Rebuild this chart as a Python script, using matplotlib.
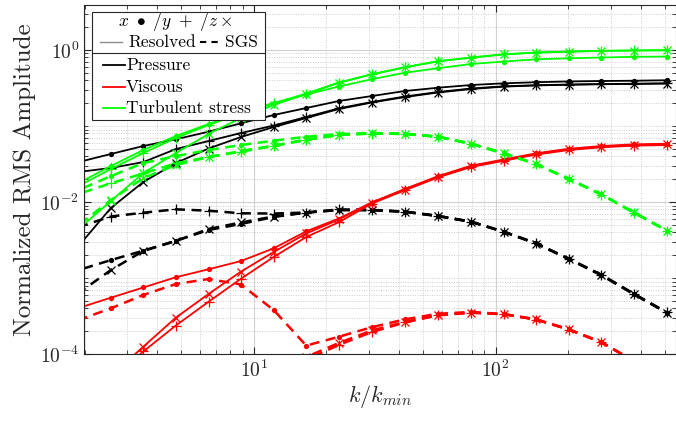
import numpy as np
import matplotlib
matplotlib.use('Agg')
import matplotlib.pyplot as plt
from matplotlib.lines import Line2D
from matplotlib.patches import Rectangle
from matplotlib.ticker import LogLocator, NullFormatter, FixedLocator

# wavenumber bins k/k_min
k = [1.89, 2.57, 3.50, 4.77, 6.51, 8.86, 12.1, 16.5, 22.5, 30.8, 42.2, 57.8,
     79.1, 108, 147, 201, 274, 373, 511]

# pressure term
p_res_x = [0.0336, 0.0429, 0.0546, 0.0669, 0.0842, 0.1085, 0.1395, 0.1724, 0.2131, 0.2478,
           0.2884, 0.3187, 0.3457, 0.3640, 0.3763, 0.3855, 0.3903, 0.3938, 0.3998]
p_res_y = [0.0249, 0.0281, 0.0336, 0.0498, 0.0635, 0.0809, 0.1015, 0.1313, 0.1708, 0.2067,
           0.2442, 0.2797, 0.3110, 0.3323, 0.3436, 0.3510, 0.3564, 0.3596, 0.3640]
p_res_z = [0.00265, 0.00837, 0.01837, 0.0326, 0.0506, 0.0717, 0.0970, 0.1274, 0.1673, 0.2036,
           0.2404, 0.2755, 0.3063, 0.3293, 0.3416, 0.3489, 0.3542, 0.3574, 0.3618]
p_sgs_x = [0.00128, 0.00173, 0.00230, 0.00311, 0.00430, 0.00516, 0.00637, 0.00730, 0.00787, 0.00787,
           0.00748, 0.00657, 0.00553, 0.00408, 0.00287, 0.00179, 0.00110, 0.000620, 0.000352]
p_sgs_y = [0.00471, 0.00647, 0.00726, 0.00804, 0.00771, 0.00713, 0.00708, 0.00730, 0.00800, 0.00790,
           0.00752, 0.00660, 0.00555, 0.00410, 0.00289, 0.00180, 0.00111, 0.000625, 0.000355]
p_sgs_z = [0.000639, 0.00128, 0.00228, 0.00308, 0.00443, 0.00540, 0.00647, 0.00730, 0.00787, 0.00785,
           0.00745, 0.00654, 0.00550, 0.00406, 0.00285, 0.00178, 0.00109, 0.000615, 0.000349]

# viscous term
v_res_x = [4.06e-4, 5.54e-4, 7.55e-4, 1.03e-3, 1.31e-3, 1.68e-3, 2.47e-3, 4.13e-3, 6.09e-3, 9.88e-3,
           0.0149, 0.0219, 0.0301, 0.0363, 0.0438, 0.0503, 0.0546, 0.0575, 0.0585]
v_res_y = [1.75e-5, 4.46e-5, 1.09e-4, 2.39e-4, 4.90e-4, 9.83e-4, 1.90e-3, 3.48e-3, 5.44e-3, 9.58e-3,
           0.0143, 0.0211, 0.0289, 0.0349, 0.0421, 0.0484, 0.0525, 0.0552, 0.0562]
v_res_z = [2.03e-5, 5.19e-5, 1.26e-4, 3.03e-4, 6.20e-4, 1.22e-3, 2.21e-3, 3.87e-3, 5.91e-3, 9.88e-3,
           0.0146, 0.0215, 0.0295, 0.0356, 0.0429, 0.0493, 0.0535, 0.0563, 0.0573]
v_sgs_x = [2.82e-4, 4.02e-4, 6.02e-4, 8.39e-4, 9.76e-4, 8.26e-4, 3.82e-4, 1.30e-4, 1.70e-4, 2.27e-4,
           2.88e-4, 3.41e-4, 3.60e-4, 3.38e-4, 2.88e-4, 2.13e-4, 1.44e-4, 8.17e-5, 3.83e-5]
v_sgs_y = [np.nan] * 7 + [8.41e-5, 1.33e-4, 1.96e-4, 2.62e-4, 3.25e-4, 3.52e-4, 3.36e-4, 2.86e-4,
                          2.11e-4, 1.43e-4, 8.10e-5, 3.80e-5]
v_sgs_z = [np.nan] * 7 + [9.21e-5, 1.41e-4, 2.06e-4, 2.66e-4, 3.28e-4, 3.54e-4, 3.37e-4, 2.87e-4,
                          2.12e-4, 1.44e-4, 8.15e-5, 3.82e-5]

# turbulent stress term
t_res_x = [0.0178, 0.0298, 0.0484, 0.0739, 0.1062, 0.1482, 0.2005, 0.2594, 0.3304, 0.4121,
           0.5016, 0.5746, 0.6527, 0.7040, 0.7523, 0.7757, 0.7947, 0.8115, 0.8189]
t_res_y = [0.0163, 0.0272, 0.0442, 0.0696, 0.1031, 0.1459, 0.1987, 0.2673, 0.3727, 0.4794,
           0.5923, 0.7105, 0.7947, 0.8753, 0.9243, 0.9528, 0.9732, 0.9849, 0.9910]
t_res_z = [0.00443, 0.01034, 0.0241, 0.0442, 0.0785, 0.1274, 0.1888, 0.2634, 0.3700, 0.4770,
           0.5900, 0.7080, 0.7920, 0.8730, 0.9220, 0.9500, 0.9700, 0.9820, 0.9880]
t_sgs_x = [0.0144, 0.0220, 0.0326, 0.0403, 0.0484, 0.0563, 0.0641, 0.0723, 0.0785, 0.0809,
           0.0797, 0.0723, 0.0585, 0.0438, 0.0317, 0.0201, 0.0126, 0.00730, 0.00421]
t_sgs_y = [0.0128, 0.0177, 0.0238, 0.0324, 0.0391, 0.0460, 0.0546, 0.0655, 0.0762, 0.0797,
           0.0785, 0.0720, 0.0582, 0.0435, 0.0315, 0.0200, 0.0125, 0.00726, 0.00419]
t_sgs_z = [0.00500, 0.01065, 0.0207, 0.0307, 0.0391, 0.0469, 0.0554, 0.0665, 0.0762, 0.0800,
           0.0788, 0.0726, 0.0588, 0.0440, 0.0318, 0.0202, 0.0127, 0.00735, 0.00423]

term_names = ['Pressure', 'Viscous', 'Turbulent stress']
term_colors = ['#000000', '#ff0000', '#00ff00']

DPI = 100
DASH = (4.0, 2.6)


def dash_offset(ax, vals, lw, ref=12):
    """offset so that the dashes of overlapping SGS lines line up at k[ref]"""
    pts = ax.transData.transform(np.column_stack([k, vals]))
    good = ~np.isnan(pts).any(axis=1)
    first = int(np.argmax(good))
    pts = pts[good]
    seg = np.hypot(np.diff(pts[:, 0]), np.diff(pts[:, 1]))
    s = seg[:ref - first].sum()
    scale = lw * DPI / 72.0
    period = (DASH[0] + DASH[1]) * scale
    return ((-s) % period) / scale


def main():
    plt.rcParams['font.family'] = 'serif'
    plt.rcParams['font.serif'] = ['cmr10']
    plt.rcParams['mathtext.fontset'] = 'cm'
    plt.rcParams['axes.formatter.use_mathtext'] = True

    fig = plt.figure(figsize=(6.76, 4.21), dpi=DPI)
    ax = fig.add_axes([84 / 676, 66.7 / 421, 592 / 676, 349.6 / 421])
    ax.set_xscale('log')
    ax.set_yscale('log')
    ax.set_xlim(1.99, 557)
    ax.set_ylim(1e-4, 3.93)

    series = {
        'Pressure': [(p_res_x, p_res_y, p_res_z), (p_sgs_x, p_sgs_y, p_sgs_z)],
        'Viscous': [(v_res_x, v_res_y, v_res_z), (v_sgs_x, v_sgs_y, v_sgs_z)],
        'Turbulent stress': [(t_res_x, t_res_y, t_res_z), (t_sgs_x, t_sgs_y, t_sgs_z)],
    }
    markers = [('o', 3.8, 0.0), ('+', 7.5, 0.9), ('x', 6.0, 0.9)]

    for name, color in zip(term_names, term_colors):
        res, sgs = series[name]
        for vals, (m, ms, mew) in zip(res, markers):
            ax.plot(k, vals, color=color, ls='-', lw=1.3, marker=m, ms=ms,
                    mew=mew, mec=color, mfc=color)
        lw = 1.8
        for vals, (m, ms, mew) in zip(sgs, markers):
            off = dash_offset(ax, vals, lw)
            ax.plot(k, vals, color=color, ls=(off, DASH), lw=lw, marker=m, ms=ms,
                    mew=mew, mec=color, mfc=color)

    ax.xaxis.set_major_locator(FixedLocator([10, 100]))
    ax.xaxis.set_minor_locator(LogLocator(base=10, subs=np.arange(2, 10), numticks=20))
    ax.yaxis.set_major_locator(FixedLocator([1e-4, 1e-2, 1]))
    ax.yaxis.set_minor_locator(LogLocator(base=10, subs=np.arange(1, 10), numticks=30))
    ax.xaxis.set_minor_formatter(NullFormatter())
    ax.yaxis.set_minor_formatter(NullFormatter())

    ax.grid(True, which='major', color='0.82', lw=0.8, ls='-')
    ax.grid(True, which='minor', color='0.8', lw=0.7, ls=(0, (1, 1.5)))
    ax.set_axisbelow(True)

    ax.tick_params(which='both', direction='in', top=True, right=True,
                   color='0.15', labelcolor='0.15', labelsize=14)
    ax.tick_params(which='major', length=5, width=0.8)
    ax.tick_params(which='minor', length=3, width=0.6)
    for sp in ax.spines.values():
        sp.set_color('0.15')
        sp.set_linewidth(0.8)

    ax.set_xlabel('$k/k_{min}$', fontsize=16, color='0.15', labelpad=2)
    ax.set_ylabel('Normalized RMS Amplitude', fontsize=18, color='0.15', labelpad=3)

    # custom legend box
    tr = ax.transAxes
    x0, x1, yb, yt, ydiv = 0.0135, 0.3057, 0.670, 0.979, 0.862
    ax.add_patch(Rectangle((x0, yb), x1 - x0, yt - yb, transform=tr, fc='white',
                           ec='0.15', lw=0.8, zorder=10))
    ax.add_line(Line2D([x0, x1], [ydiv, ydiv], transform=tr, color='0.15', lw=0.8, zorder=11))
    fs = 12.5
    ax.text(0.1537, 0.9505, r'$x\ \bullet\ /y\ +\ /z\times$', transform=tr, ha='center',
            va='center', fontsize=fs, zorder=12)
    ax.add_line(Line2D([0.027, 0.064], [0.893, 0.893], transform=tr, color='0.55', lw=1.0, zorder=12))
    ax.text(0.0743, 0.893, 'Resolved', transform=tr, ha='left', va='center', fontsize=fs, zorder=12)
    ax.add_line(Line2D([0.196, 0.232], [0.893, 0.893], transform=tr, color='k', lw=1.5,
                       ls=(0, (3, 2.5)), zorder=12))
    ax.text(0.238, 0.893, 'SGS', transform=tr, ha='left', va='center', fontsize=fs, zorder=12)
    for yy, name, color in zip([0.8276, 0.7646, 0.7046], term_names, term_colors):
        ax.add_line(Line2D([0.032, 0.069], [yy, yy], transform=tr, color=color, lw=1.3, zorder=12))
        ax.text(0.071, yy, name, transform=tr, ha='left', va='center', fontsize=fs, zorder=12)

    fig.savefig('out.png', dpi=DPI)
    plt.close(fig)


if __name__ == "__main__":
    main()
